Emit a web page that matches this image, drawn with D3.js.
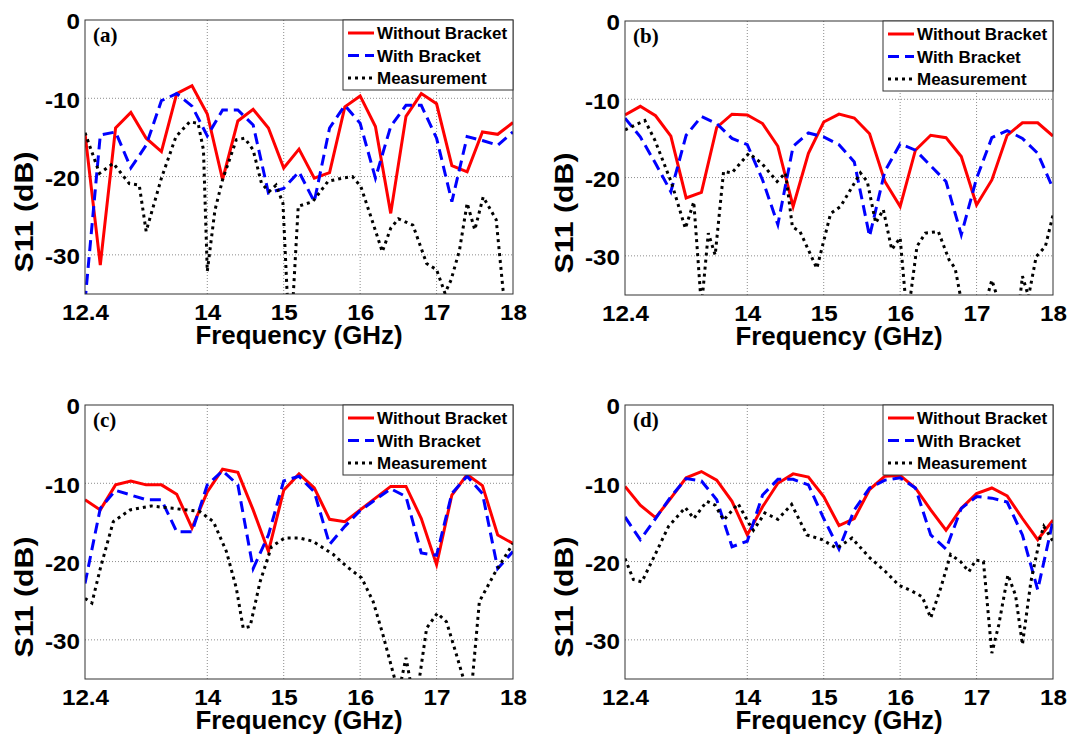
<!DOCTYPE html>
<html><head><meta charset="utf-8">
<script src="https://cdn.jsdelivr.net/npm/d3@7"></script>
<style>body{margin:0;background:#fff;} svg{display:block;}</style>
</head><body><svg id="chart" width="1071" height="735"></svg>
<script>
// ---------- data ----------
const freqSim = [12.4,12.6,12.8,13.0,13.2,13.4,13.6,13.8,14.0,14.2,14.4,14.6,14.8,15.0,15.2,15.4,15.6,15.8,16.0,16.2,16.4,16.6,16.8,17.0,17.2,17.4,17.6,17.8,18.0];
const xTicks = [12.4,14,15,16,17,18];
const yTicks = [0,-10,-20,-30];
const seriesNames = ["Without Bracket","With Bracket","Measurement"];
const panelLabels = ["(a)","(b)","(c)","(d)"];

const aWithout = [-14.5,-31.3,-13.8,-11.8,-15.1,-16.8,-9.4,-8.4,-12.0,-20.4,-12.9,-11.4,-13.8,-18.9,-16.5,-20.2,-19.5,-11.1,-9.7,-13.6,-24.7,-12.3,-9.4,-10.7,-18.6,-19.4,-14.3,-14.6,-13.1];
const aWith = [-36,-14.7,-14.3,-18.9,-16.0,-10.3,-9.4,-11.0,-14.8,-11.5,-11.5,-13.4,-22.1,-21.5,-19.4,-23.2,-13.8,-10.9,-13.2,-20.2,-13.6,-10.9,-10.9,-15.1,-23.2,-14.9,-15.4,-16.0,-14.3];
const aMeasFreq = [12.40,12.59,12.77,12.98,13.11,13.20,13.40,13.59,13.77,13.88,13.95,14.00,14.10,14.20,14.38,14.49,14.60,14.71,14.81,14.90,14.99,15.05,15.12,15.19,15.38,15.58,15.77,15.90,16.01,16.17,16.29,16.40,16.50,16.69,16.87,17.00,17.11,17.19,17.30,17.40,17.50,17.61,17.78,17.87,17.91];
const aMeas = [-14.4,-19.6,-18.3,-20.9,-21.1,-27.0,-20.2,-14.9,-13.0,-13.2,-16.6,-32.1,-24.3,-20.4,-15.3,-15.1,-16.6,-20.9,-21.9,-21.1,-23.4,-36,-36,-23.8,-23.2,-20.6,-20.2,-20.0,-21.3,-26.0,-29.6,-26.6,-25.4,-26.2,-31.1,-31.9,-34.9,-33.2,-29.4,-23.4,-26.8,-22.6,-25.5,-34.5,-36];

const bWithout = [-12.0,-10.9,-12.1,-14.7,-22.6,-21.9,-13.6,-11.9,-12.0,-13.1,-16.0,-23.7,-16.9,-12.9,-11.9,-12.4,-14.4,-20.5,-23.7,-16.5,-14.6,-14.9,-17.3,-23.5,-20.3,-14.6,-13.0,-13.0,-14.7];
const bWith = [-12.4,-14.8,-18.2,-21.8,-14.6,-12.2,-13.1,-15.0,-15.8,-20.3,-26.0,-16.0,-14.3,-14.8,-15.8,-18.0,-27.5,-19.2,-15.7,-16.5,-18.5,-20.5,-27.3,-20.1,-14.9,-14.0,-15.0,-16.9,-21.4];
const bMeasFreq = [12.40,12.66,12.79,13.01,13.19,13.30,13.40,13.49,13.58,13.69,13.80,14.02,14.19,14.39,14.50,14.59,14.69,14.91,15.09,15.22,15.48,15.57,15.68,15.78,15.89,16.00,16.07,16.13,16.22,16.33,16.50,16.64,16.72,16.79,16.97,17.14,17.20,17.27,17.43,17.57,17.60,17.68,17.78,17.90,18.00];
const bMeas = [-13.9,-12.7,-15.2,-20.7,-26.5,-23.1,-36.5,-27.1,-29.9,-19.2,-19.4,-16.9,-18.2,-20.5,-19.4,-26.3,-26.9,-31.6,-24.6,-23.7,-19.4,-20.5,-25.8,-24.1,-29.2,-27.7,-35.5,-35.5,-28.8,-27.1,-26.9,-30.5,-31.6,-35.2,-38,-35.2,-33.1,-35.2,-38,-35.2,-32.6,-35.2,-30.1,-28.8,-24.8];

const cWithout = [-12.1,-13.4,-10.2,-9.7,-10.2,-10.2,-11.4,-15.7,-11.1,-8.2,-8.6,-13.4,-18.7,-10.9,-8.8,-10.6,-14.6,-14.9,-13.4,-11.9,-10.4,-10.4,-14.5,-20.4,-11.5,-8.9,-10.3,-16.6,-17.7];
const cWith = [-22.8,-13.2,-10.9,-11.5,-12.1,-12.1,-16.2,-16.2,-10.2,-8.4,-10.2,-20.9,-16.6,-9.7,-9.1,-11.1,-17.8,-15.5,-13.5,-12.1,-10.7,-11.7,-18.9,-19.2,-11.3,-9.1,-11.3,-20.9,-18.7];
const cMeasFreq = [12.40,12.49,12.60,12.77,12.99,13.27,13.55,13.90,14.08,14.25,14.38,14.47,14.56,14.69,14.84,15.01,15.21,15.38,15.65,15.82,16.02,16.17,16.30,16.45,16.52,16.60,16.67,16.76,16.87,17.01,17.13,17.26,17.35,17.46,17.56,17.76,18.00];
const cMeas = [-24.7,-25.3,-20.9,-14.9,-13.4,-12.9,-13.2,-13.6,-14.9,-18.7,-23.4,-28.5,-28.3,-22.6,-18.1,-17.0,-17.0,-17.4,-19.1,-20.6,-22.1,-25.1,-29.4,-34.9,-36,-32.3,-36,-36,-28.5,-26.6,-27.7,-31.9,-34.9,-36,-25.1,-21.5,-17.7];

const dWithout = [-10.4,-12.8,-14.4,-11.9,-9.3,-8.5,-9.6,-12.3,-16.6,-13.0,-10.0,-8.8,-9.2,-11.7,-15.4,-14.5,-10.8,-9.1,-9.0,-10.6,-13.4,-16.0,-13.2,-11.3,-10.6,-11.6,-14.5,-17.2,-14.7];
const dWith = [-14.3,-17.2,-14.5,-11.7,-9.4,-9.7,-12.1,-18.1,-17.4,-11.5,-9.5,-9.5,-10.2,-14.5,-18.4,-13.4,-10.6,-9.6,-9.3,-10.6,-16.6,-18.4,-13.2,-11.7,-11.9,-12.4,-16.6,-23.6,-14.8];
const dMeasFreq = [12.40,12.51,12.62,12.77,12.97,13.19,13.30,13.47,13.58,13.69,13.88,14.02,14.08,14.23,14.40,14.58,14.78,14.98,15.17,15.37,15.59,15.81,15.98,16.16,16.29,16.40,16.53,16.66,16.79,16.90,16.99,17.09,17.20,17.29,17.41,17.51,17.60,17.71,17.83,17.88,18.00];
const dMeas = [-19.6,-22.3,-22.6,-19.6,-15.5,-13.1,-14.5,-12.3,-12.8,-14.7,-12.6,-15.1,-16.0,-13.8,-14.6,-12.7,-16.6,-17.2,-18.3,-17.0,-19.4,-21.3,-23.0,-23.8,-24.5,-27.2,-23.4,-19.1,-20.0,-21.3,-19.8,-20.0,-31.7,-28.1,-21.7,-24.3,-30.6,-22.6,-17.0,-15.5,-17.4];

// ---------- layout / styles ----------
const styles = [
  {color:"#ff0000", dash:null},
  {color:"#0000ff", dash:"11,6"},
  {color:"#000000", dash:"3,4"}
];
const panels = [
  {label:panelLabels[0], sims:[aWithout,aWith], mf:aMeasFreq, m:aMeas, left:85, right:513, top:20, bottom:294},
  {label:panelLabels[1], sims:[bWithout,bWith], mf:bMeasFreq, m:bMeas, left:625, right:1053, top:21, bottom:295},
  {label:panelLabels[2], sims:[cWithout,cWith], mf:cMeasFreq, m:cMeas, left:85, right:513, top:405, bottom:679},
  {label:panelLabels[3], sims:[dWithout,dWith], mf:dMeasFreq, m:dMeas, left:625, right:1053, top:405, bottom:679}
];
const SANS = "'Liberation Sans', Arial, Helvetica, sans-serif";
const SERIF = "'Liberation Serif', 'Times New Roman', serif";

const svg = d3.select("#chart");
svg.append("rect").attr("width",1071).attr("height",735).attr("fill","#fff");
const defs = svg.append("defs");

panels.forEach((p,i)=>{
  const x = d3.scaleLinear().domain([12.4,18]).range([p.left,p.right]);
  const y = d3.scaleLinear().domain([-35,0]).range([p.bottom,p.top]);
  const g = svg.append("g");
  const cid = "clip"+i;
  defs.append("clipPath").attr("id",cid).append("rect")
    .attr("x",p.left).attr("y",p.top).attr("width",p.right-p.left).attr("height",p.bottom-p.top);

  // grid
  g.selectAll(".gx").data(xTicks.filter(t=>t>12.4 && t<18)).enter().append("line")
    .attr("x1",d=>x(d)).attr("x2",d=>x(d)).attr("y1",p.top).attr("y2",p.bottom)
    .attr("stroke","#8c8c8c").attr("stroke-width",1).attr("stroke-dasharray","1,2");
  g.selectAll(".gy").data(yTicks.filter(t=>t<0)).enter().append("line")
    .attr("y1",d=>y(d)).attr("y2",d=>y(d)).attr("x1",p.left).attr("x2",p.right)
    .attr("stroke","#8c8c8c").attr("stroke-width",1).attr("stroke-dasharray","1,2");

  // axes
  const xa = g.append("g").attr("transform",`translate(0,${p.bottom})`)
    .call(d3.axisBottom(x).tickValues(xTicks).tickFormat(d=>String(d)).tickSize(0).tickPadding(10));
  const ya = g.append("g").attr("transform",`translate(${p.left},0)`)
    .call(d3.axisLeft(y).tickValues(yTicks).tickFormat(d=>String(d)).tickSize(0).tickPadding(5));
  [xa,ya].forEach(a=>{
    a.select(".domain").remove();
    a.selectAll("text").attr("font-family",SANS).attr("font-weight","bold").attr("font-size",22).attr("fill","#000")
      .each(function(){
        const w = this.getComputedTextLength();
        d3.select(this).attr("textLength", w*1.1).attr("lengthAdjust","spacingAndGlyphs");
      });
  });
  ya.selectAll("text").attr("dy","0.4em");

  // lines
  const lineG = g.append("g").attr("clip-path",`url(#${cid})`);
  const line = d3.line().x(d=>x(d[0])).y(d=>y(d[1]));
  p.sims.forEach((vals,k)=>{
    lineG.append("path").datum(freqSim.map((f,j)=>[f,vals[j]]))
      .attr("d",line).attr("fill","none").attr("stroke",styles[k].color)
      .attr("stroke-width",3).attr("stroke-dasharray",styles[k].dash);
  });
  lineG.append("path").datum(p.mf.map((f,j)=>[f,p.m[j]]))
    .attr("d",line).attr("fill","none").attr("stroke",styles[2].color)
    .attr("stroke-width",3).attr("stroke-dasharray",styles[2].dash);

  // frame
  g.append("rect").attr("x",p.left).attr("y",p.top).attr("width",p.right-p.left).attr("height",p.bottom-p.top)
    .attr("fill","none").attr("stroke","#333").attr("stroke-width",1);

  // panel label
  g.append("text").attr("x",p.left+8).attr("y",p.top+22).text(p.label)
    .attr("font-family",SERIF).attr("font-weight","bold").attr("font-size",21);

  // legend
  const bx = p.right-170, by = p.top;
  const lg = g.append("g");
  lg.append("rect").attr("x",bx).attr("y",by).attr("width",170).attr("height",70)
    .attr("fill","#fff").attr("stroke","#333").attr("stroke-width",1);
  seriesNames.forEach((name,k)=>{
    const cy = by+13+k*22.5;
    lg.append("line").attr("x1",bx+5).attr("x2",bx+31).attr("y1",cy).attr("y2",cy)
      .attr("stroke",styles[k].color).attr("stroke-width",3).attr("stroke-dasharray",styles[k].dash);
    lg.append("text").attr("x",bx+34).attr("y",cy).attr("dy","0.36em").text(name)
      .attr("font-family",SANS).attr("font-weight","bold").attr("font-size",17);
  });

  // axis titles
  g.append("text").attr("x",(p.left+p.right)/2).attr("y",p.bottom+50).attr("text-anchor","middle")
    .text("Frequency (GHz)").attr("font-family",SANS).attr("font-weight","bold").attr("font-size",25)
    .attr("textLength",207).attr("lengthAdjust","spacingAndGlyphs");
  g.append("text").attr("transform",`translate(${p.left-52},${(p.top+p.bottom)/2+55}) rotate(-90)`)
    .attr("text-anchor","middle").text("S11 (dB)")
    .attr("font-family",SANS).attr("font-weight","bold").attr("font-size",25)
    .attr("textLength",121).attr("lengthAdjust","spacingAndGlyphs");
});
</script>
</body></html>
